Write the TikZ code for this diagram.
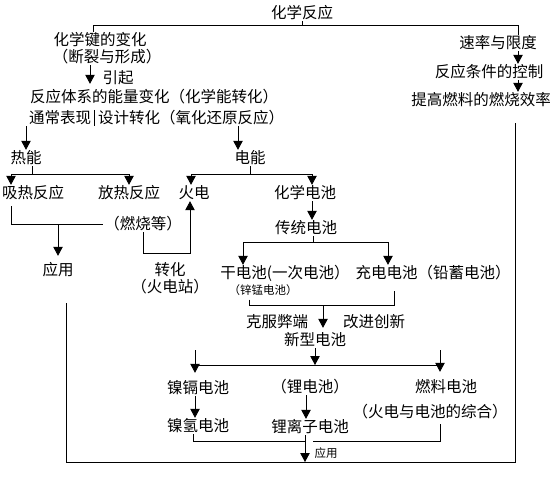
\documentclass[tikz,border=0pt]{standalone}
\usepackage{fontspec}
\newfontfamily\cjk{Noto Sans CJK SC}
\usetikzlibrary{arrows.meta,calc}
\tikzset{
  flowarrow/.style={-{Triangle[length=9pt,width=9.5pt]}, line width=0.8pt},
  link/.style={line width=0.8pt},
  term/.style={font=\cjk\fontsize{15.5}{15.5}\selectfont, inner sep=1pt, text height=12pt, text depth=2pt},
  smallterm/.style={font=\cjk\fontsize{11.5}{11.5}\selectfont, inner sep=1pt, text height=9pt, text depth=2pt}
}

\begin{document}
\begin{tikzpicture}[x=1pt, y=-1pt]
  \useasboundingbox[fill=white] (0,0) rectangle (553,480);
  % top part
  \node[term] (title) at (302,13) {化学反应};
  \node[term] (bond) at (100,40) {化学键的变化};
  \node[term] (bondsub) at (107,57) {（断裂与形成）};
  \node[term] (yinqi) at (118,78) {引起};
  \node[term] (energy) at (154,97) {反应体系的能量变化（化学能转化）};
  \node[term] (usual) at (60,118) {通常表现};
  \node[term] (design) at (191,118) {设计转化（氧化还原反应）};
  \node[term] (rate) at (498,43) {速率与限度};
  \node[term] (cond) at (489,72) {反应条件的控制};
  \node[term] (eff) at (481,100) {提高燃料的燃烧效率};
  % heat and electricity
  \node[term] (heat) at (26,158) {热能};
  \node[term] (elec) at (250,158) {电能};
  \node[term] (endo) at (33,193) {吸热反应};
  \node[term] (exo) at (129,193) {放热反应};
  \node[term] (burn) at (143,224) {（燃烧等）};
  \node[term] (use1) at (58,270) {应用};
  \node[term] (conv) at (170,270) {转化};
  \node[term] (station) at (170,287) {（火电站）};
  \node[term] (thermal) at (194,193) {火电};
  \node[term] (chemcell) at (305,193) {化学电池};
  \node[term] (tradcell) at (306,228) {传统电池};
  \node[term] (dry) at (285,273) {干电池(一次电池）};
  \node[smallterm] (znmn) at (263,291) {（锌锰电池）};
  \node[term] (charge) at (433,273) {充电电池（铅蓄电池）};
  % new cells
  \node[term] (overcome) at (277,322) {克服弊端};
  \node[term] (improve) at (374,322) {改进创新};
  \node[term] (newcell) at (315,340) {新型电池};
  \node[term] (nicd) at (198,388) {镍镉电池};
  \node[term] (li) at (310,387) {（锂电池）};
  \node[term] (fuel) at (446,387) {燃料电池};
  \node[term] (fuelsub) at (430,412) {（火电与电池的综合）};
  \node[term] (nimh) at (198,426) {镍氢电池};
  \node[term] (liion) at (310,427) {锂离子电池};
  \node[smallterm] (use2) at (326,454) {应用};

  \coordinate (tl) at (93,25);
  \coordinate (tr) at (518,25);
  \draw[link] (title.south) -- (title.south |- tl);
  \draw[link] (bond.north -| tl) -- (tl) -- (tr) -- (rate.north -| tr);
  \draw[flowarrow, shorten >=5pt] ([xshift=-17pt]bondsub.south) -- ([xshift=-17pt]bondsub.south |- energy.north);
  \draw[link] ($(usual.north east)!0.5!(design.north west)$) -- ($(usual.south east)!0.5!(design.south west)$);
  \draw[flowarrow] (rate.south -| tr) -- (cond.north -| tr);
  \draw[flowarrow] (cond.south -| tr) -- (eff.north -| tr);
  \draw[flowarrow] (usual.south -| heat.north) -- (heat.north);
  \draw[flowarrow] ([xshift=-12pt]elec.north |- design.south) -- ([xshift=-12pt]elec.north);

  % heat branch
  \coordinate (hj) at (11,174);
  \coordinate (uj) at (11,224);
  \coordinate (fj) at (190,253);
  \draw[link] ([xshift=6pt]heat.south) -- ([xshift=6pt]heat.south |- hj);
  \draw[link] (hj) -- (hj -| exo);
  \draw[flowarrow] (hj) -- (hj |- endo.north);
  \draw[flowarrow] (hj -| exo) -- (exo.north);
  \draw[link, shorten <=5pt] (endo.south -| uj) -- (uj) -- (burn.west);
  \draw[flowarrow, shorten >=6pt] (uj -| use1) -- (use1.north);
  \draw[flowarrow] (burn.south) -- (burn.south |- fj) -- (fj) -- (thermal.south -| fj);

  % electricity branch
  \coordinate (ej) at (191,174);
  \coordinate (ej2) at (312,174);
  \draw[link] (elec.south) -- (elec.south |- ej);
  \draw[link] (ej) -- (ej2);
  \draw[flowarrow] (ej) -- (ej |- thermal.north);
  \draw[flowarrow] (ej2) -- (ej2 |- chemcell.north);
  \draw[flowarrow] (chemcell.south -| ej2) -- (tradcell.north -| ej2);
  \coordinate (tj) at (243,242);
  \coordinate (tj2) at (388,242);
  \draw[link] ([xshift=7pt]tradcell.south) -- ([xshift=7pt]tradcell.south |- tj);
  \draw[link] (tj) -- (tj2);
  \draw[flowarrow] (tj) -- (tj |- dry.north);
  \draw[flowarrow] (tj2) -- (tj2 |- charge.north);
  \coordinate (kj) at (249,305);
  \coordinate (kj2) at (394,305);
  \coordinate (km) at (323,305);
  \draw[link, shorten <=2pt, shorten >=10pt] (znmn.south -| kj) -- (kj) -- (kj2) -- (charge.south -| kj2);
  \draw[flowarrow, shorten >=4pt] (km) -- (km |- newcell.north);

  % new cells
  \coordinate (nj) at (195,365);
  \coordinate (nj2) at (440,365);
  \coordinate (na) at (195,350);
  \coordinate (na2) at (440,350);
  \draw[flowarrow] (newcell.south) -- (newcell.south |- nj);
  \draw[link] (nj) -- (nj2);
  \draw[flowarrow, shorten >=7pt] (na) -- (na |- nicd.north);
  \draw[flowarrow, shorten >=7pt] (na2) -- (na2 |- fuel.north);
  \draw[flowarrow] (nicd.south -| nj) -- (nimh.north -| nj);
  \draw[flowarrow] ([xshift=-4pt]li.south) -- ([xshift=-4pt]liion.north);

  % bottom
  \coordinate (bj) at (193,441);
  \coordinate (bj2) at (440,441);
  \coordinate (bl) at (66,462);
  \coordinate (br) at (515,462);
  \draw[link] (nimh.south -| bj) -- (bj) -- ([xshift=-5pt]bj -| liion);
  \draw[link, shorten <=4pt] (fuelsub.south -| bj2) -- (bj2) -- ([xshift=3pt]bj -| liion);
  \draw[flowarrow] ([xshift=-5pt]liion.south) -- ([xshift=-5pt]liion.south |- bl);
  \draw[link, shorten <=15pt, shorten >=25pt] (eff.south -| br) -- (br) -- (bl) -- (use1.south -| bl);
\end{tikzpicture}
\end{document}
